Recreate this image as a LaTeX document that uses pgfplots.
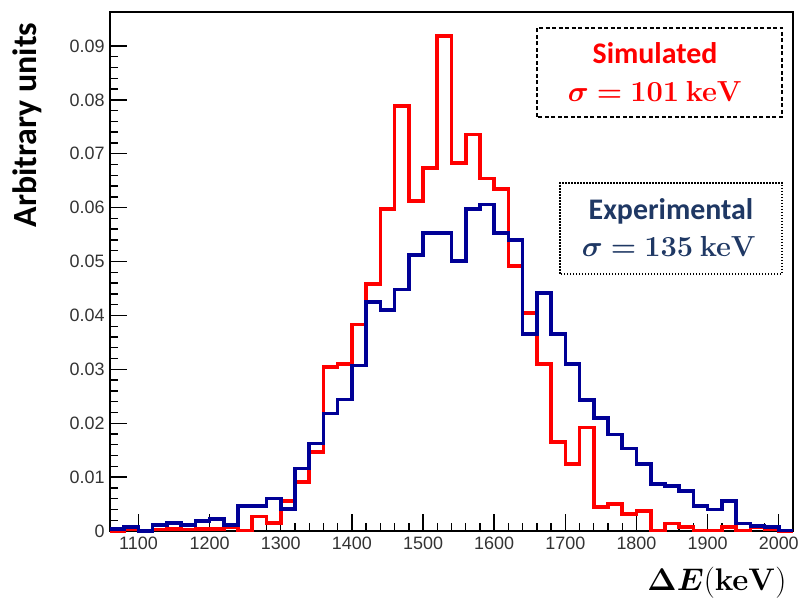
\documentclass[border=0pt]{standalone}
\usepackage{amsmath}
\usepackage{bm}
\usepackage[no-math]{fontspec}
\setmainfont{Carlito}
\newfontfamily\rootfont{Liberation Sans}
\usepackage{pgfplots}
\usepackage{pgfplotstable}
\pgfplotsset{compat=1.18}
\definecolor{histred}{RGB}{255,0,0}
\definecolor{histblue}{RGB}{0,0,150}
\definecolor{textblue}{RGB}{31,56,100}
\newcommand{\xlab}{\scalebox{1.26}{$\bm{\Delta E}\mathbf{(keV)}$}}
\newcommand{\simsig}{\scalebox{1.17}{$\bm{\sigma} \bm{=} \mathbf{101\ keV}$}}
\newcommand{\expsig}{\scalebox{1.17}{$\bm{\sigma} \bm{=} \mathbf{135\ keV}$}}

\pgfplotstableread{
x y
1060 0
1080 0.0004
1100 0
1120 0.0003
1140 0.0004
1160 0.0003
1180 0.0004
1200 0.0004
1220 0.0007
1240 0.0001
1260 0.0027
1280 0.0015
1300 0.0056
1320 0.0091
1340 0.0147
1360 0.0304
1380 0.0310
1400 0.0383
1420 0.0458
1440 0.0597
1460 0.0789
1480 0.0612
1500 0.0674
1520 0.0918
1540 0.0683
1560 0.0736
1580 0.0654
1600 0.0635
1620 0.0492
1640 0.0405
1660 0.0310
1680 0.0165
1700 0.0124
1720 0.0192
1740 0.0045
1760 0.0050
1780 0.0032
1800 0.0037
1820 0.0001
1840 0.0014
1860 0.0007
1880 0.0001
1900 0.0001
1920 0.0007
1940 0.0001
1960 0.0007
1980 0.0003
2000 0
2020 0
}\simdata

\pgfplotstableread{
x y
1060 0.0004
1080 0.0007
1100 0
1120 0.0011
1140 0.0015
1160 0.0011
1180 0.0018
1200 0.0022
1220 0.0011
1240 0.0046
1260 0.0046
1280 0.0060
1300 0.0041
1320 0.0116
1340 0.0162
1360 0.0218
1380 0.0244
1400 0.0307
1420 0.0425
1440 0.0410
1460 0.0448
1480 0.0512
1500 0.0553
1520 0.0553
1540 0.0501
1560 0.0597
1580 0.0606
1600 0.0553
1620 0.0540
1640 0.0365
1660 0.0442
1680 0.0365
1700 0.0310
1720 0.0243
1740 0.0210
1760 0.0179
1780 0.0153
1800 0.0124
1820 0.0087
1840 0.0084
1860 0.0074
1880 0.0046
1900 0.0040
1920 0.0056
1940 0.0014
1960 0.0009
1980 0.0007
2000 0.0001
2020 0.0001
}\expdata

\begin{document}
\begin{tikzpicture}
\useasboundingbox (-110bp,-73bp) rectangle (692bp,531bp);
\begin{axis}[
  scale only axis,
  width=683bp, height=519bp,
  xmin=1060, xmax=2020, ymin=0, ymax=0.0963,
  clip=false,
  axis line style={line width=1.6bp, black},
  tick pos=left,
  tick align=inside,
  major tick length=17bp,
  minor tick length=8bp,
  tick style={line width=1.4bp, black},
  xtick={1100,1200,1300,1400,1500,1600,1700,1800,1900,2000},
  xticklabels={1100,1200,1300,1400,1500,1600,1700,1800,1900,2000},
  minor x tick num=4,
  ytick={0,0.01,0.02,0.03,0.04,0.05,0.06,0.07,0.08,0.09},
  yticklabels={0,0.01,0.02,0.03,0.04,0.05,0.06,0.07,0.08,0.09},
  minor y tick num=4,
  ticklabel style={font=\rootfont\fontsize{18}{18}\selectfont, text=black!80},
  xticklabel style={yshift=-2bp},
  yticklabel style={xshift=-2bp},
]
\addplot[const plot, histred, line width=3.6bp] table {\simdata};
\addplot[const plot, histblue, line width=3.6bp] table {\expdata};
\end{axis}
\node[rotate=90, anchor=base, font=\bfseries\fontsize{34}{34}\selectfont] at (-73bp,406bp) {Arbitrary units};
\node[anchor=base, font=\fontsize{24.88}{25}\selectfont] at (607bp,-59bp) {\xlab};
\draw[black, line width=1.3bp, dash pattern=on 4bp off 2.5bp] (427bp,414bp) rectangle (672bp,503bp);
\node[anchor=base, text=histred, font=\bfseries\fontsize{30}{30}\selectfont] at (545bp,467bp) {Simulated};
\node[anchor=base, text=histred, font=\fontsize{24.88}{25}\selectfont] at (545bp,429bp) {\simsig};
\draw[black, line width=1.3bp, dash pattern=on 1.5bp off 1.5bp] (450bp,257bp) rectangle (672bp,348bp);
\node[anchor=base, text=textblue, font=\bfseries\fontsize{30}{30}\selectfont] at (561bp,311bp) {Experimental};
\node[anchor=base, text=textblue, font=\fontsize{24.88}{25}\selectfont] at (559bp,274bp) {\expsig};
\end{tikzpicture}
\end{document}
